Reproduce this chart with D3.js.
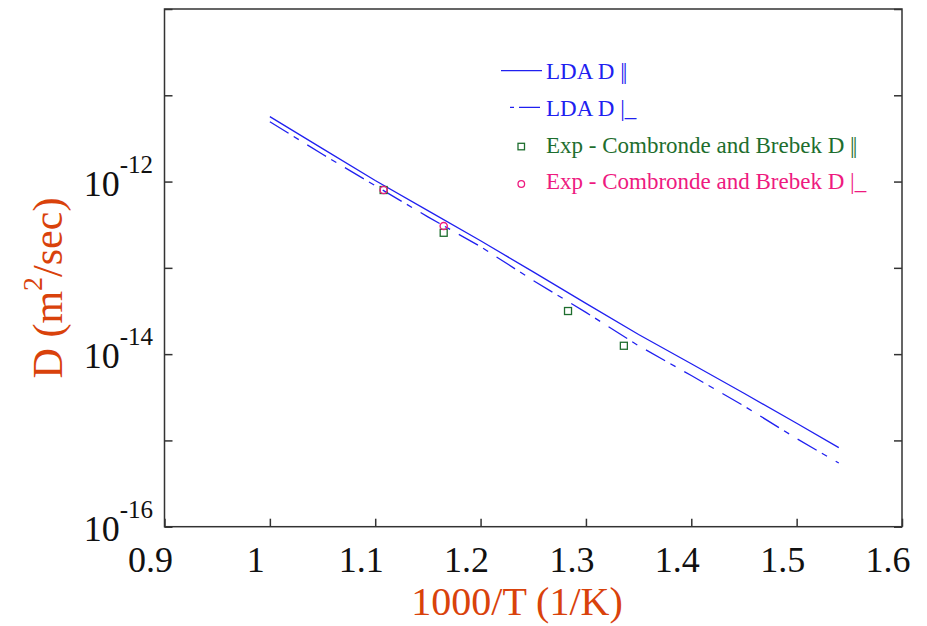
<!DOCTYPE html>
<html>
<head>
<meta charset="utf-8">
<script src="https://cdnjs.cloudflare.com/ajax/libs/d3/7.8.5/d3.min.js"></script>
<style>
    body { margin: 0; background: #fff; }
    svg { display: block; font-family: "Liberation Serif", "Times New Roman", serif; }
    .tick-label { font-size: 36px; fill: #111; }
    .axis-title { fill: #d9420b; }
    .legend-text { font-size: 23px; }
</style>
</head>
<body>
<svg width="927" height="626"></svg>
<script>
// 1000/T values where the LDA curves were evaluated
var ldaX = [1.0, 1.05, 1.1, 1.15, 1.2, 1.25, 1.3, 1.35, 1.4, 1.45, 1.5, 1.54];
// LDA diffusion coefficient, parallel (m^2/sec)
var ldaPar = [5.65e-12, 2.41e-12, 1.03e-12, 4.61e-13, 2.06e-13, 8.99e-14, 3.88e-14, 1.69e-14, 7.73e-15, 3.52e-15, 1.58e-15, 8.24e-16];
// LDA diffusion coefficient, perpendicular (m^2/sec)
var ldaPerp = [4.94e-12, 2.07e-12, 8.97e-13, 3.90e-13, 1.76e-13, 7.13e-14, 3.05e-14, 1.25e-14, 5.65e-15, 2.51e-15, 1.05e-15, 5.47e-16];

// Experiment (Combronde and Brebek)
var expParX = [1.108, 1.165, 1.283, 1.336];
var expPar = [7.98e-13, 2.55e-13, 3.16e-14, 1.25e-14];
var expPerpX = [1.108, 1.165];
var expPerp = [7.98e-13, 3.05e-13];

var xTicks = [0.9, 1.0, 1.1, 1.2, 1.3, 1.4, 1.5, 1.6];
var yTicks = [1e-16, 1e-15, 1e-14, 1e-13, 1e-12, 1e-11, 1e-10];
var yLabelExps = [-16, -14, -12];

// legend rows: text before the direction mark, and the mark itself
var legendLabels = ['LDA D ', 'LDA D ', 'Exp - Combronde and Brebek D ', 'Exp - Combronde and Brebek D '];
var legendMarks = ['||', '|_', '||', '|_'];

var blue = '#2020f0', green = '#1e6e2e', pink = '#ee1a7f';

var svg = d3.select('svg');

var plot = {l: 164.5, r: 902, t: 9, b: 526.7};

var xScale = d3.scaleLinear().domain([0.9, 1.6]).range([plot.l, plot.r]);
var yScale = d3.scaleLog().domain([1e-16, 1e-10]).range([plot.b, plot.t]);

// frame
svg.append('rect')
    .attr('x', plot.l).attr('y', plot.t)
    .attr('width', plot.r - plot.l).attr('height', plot.b - plot.t)
    .attr('fill', 'none').attr('stroke', '#333').attr('stroke-width', 1.5);

function styleTicks(g) {
    g.select('.domain').remove();
    g.selectAll('line').attr('stroke', '#333').attr('stroke-width', 1.5);
}

// inward ticks, bottom
var xAxis = d3.axisBottom(xScale).tickValues(xTicks).tickSizeInner(-8).tickSizeOuter(0).tickFormat('');
svg.append('g').attr('transform', 'translate(0,' + plot.b + ')').call(xAxis).call(styleTicks);

// inward ticks, left and right
var yAxisL = d3.axisLeft(yScale).tickValues(yTicks).tickSizeInner(-8).tickSizeOuter(0).tickFormat('');
var yAxisR = d3.axisRight(yScale).tickValues(yTicks).tickSizeInner(-8).tickSizeOuter(0).tickFormat('');
svg.append('g').attr('transform', 'translate(' + plot.l + ',0)').call(yAxisL).call(styleTicks);
svg.append('g').attr('transform', 'translate(' + plot.r + ',0)').call(yAxisR).call(styleTicks);

// x tick labels
svg.selectAll('.xlab')
    .data(xTicks)
    .enter()
    .append('text')
    .attr('class', 'tick-label')
    .attr('x', function(d) { return xScale(d) - 14; })
    .attr('y', 572)
    .attr('text-anchor', 'middle')
    .text(d3.format('~g'));

// y tick labels as powers of ten
var yLab = svg.selectAll('.ylab')
    .data(yLabelExps)
    .enter()
    .append('text')
    .attr('class', 'tick-label')
    .attr('x', 153)
    .attr('y', function(d) { return yScale(Math.pow(10, d)) + 14; })
    .attr('text-anchor', 'end');
yLab.append('tspan').text('10');
yLab.append('tspan').attr('dy', -23).style('font-size', '25px').text(function(d) { return '-' + Math.abs(d); });

// axis titles
svg.append('text')
    .attr('class', 'axis-title')
    .attr('x', 517).attr('y', 615)
    .attr('text-anchor', 'middle')
    .style('font-size', '40px')
    .text('1000/T (1/K)');

var yTitle = svg.append('text')
    .attr('class', 'axis-title')
    .attr('transform', 'translate(62,288)rotate(-90)')
    .attr('text-anchor', 'middle')
    .style('font-size', '42px');
yTitle.append('tspan').text('D (m');
yTitle.append('tspan').attr('dy', -20).style('font-size', '28px').text('2');
yTitle.append('tspan').attr('dy', 20).text('/sec)');

// LDA curves
var line = d3.line()
    .x(function(d) { return xScale(d[0]); })
    .y(function(d) { return yScale(d[1]); });

svg.append('path')
    .datum(d3.zip(ldaX, ldaPar))
    .attr('d', line)
    .attr('fill', 'none').attr('stroke', blue).attr('stroke-width', 1.3);

svg.append('path')
    .datum(d3.zip(ldaX, ldaPerp))
    .attr('d', line)
    .attr('fill', 'none').attr('stroke', blue).attr('stroke-width', 1.3)
    .attr('stroke-dasharray', '22,6,6,10');

// experimental points
svg.selectAll('.sq')
    .data(d3.zip(expParX, expPar))
    .enter()
    .append('rect')
    .attr('x', function(d) { return xScale(d[0]) - 3.5; })
    .attr('y', function(d) { return yScale(d[1]) - 3.5; })
    .attr('width', 7).attr('height', 7)
    .attr('fill', 'none').attr('stroke', green).attr('stroke-width', 1.3);

svg.selectAll('.circ')
    .data(d3.zip(expPerpX, expPerp))
    .enter()
    .append('circle')
    .attr('cx', function(d) { return xScale(d[0]); })
    .attr('cy', function(d) { return yScale(d[1]); })
    .attr('r', 3.6)
    .attr('fill', 'none').attr('stroke', pink).attr('stroke-width', 1.4);

// legend
var legend = svg.append('g');
var rowY = [79, 116, 152.7, 189.3];
var rowColor = [blue, blue, green, pink];

var legText = legend.selectAll('text')
    .data(legendLabels)
    .enter()
    .append('text')
    .attr('class', 'legend-text')
    .attr('x', 546)
    .attr('y', function(d, i) { return rowY[i]; })
    .attr('fill', function(d, i) { return rowColor[i]; });
legText.append('tspan').text(function(d) { return d; });
legText.append('tspan')
    .style('letter-spacing', function(d, i) { return legendMarks[i] === '||' ? '-2px' : '0px'; })
    .text(function(d, i) { return legendMarks[i]; });

legend.append('line')
    .attr('x1', 501).attr('x2', 542).attr('y1', 70.7).attr('y2', 70.7)
    .attr('stroke', blue).attr('stroke-width', 1.3);
legend.append('line')
    .attr('x1', 510).attr('x2', 540).attr('y1', 107.3).attr('y2', 107.3)
    .attr('stroke', blue).attr('stroke-width', 1.3)
    .attr('stroke-dasharray', '4,5,21');
legend.append('rect')
    .attr('x', 518).attr('y', 143.3).attr('width', 6.5).attr('height', 6.5)
    .attr('fill', 'none').attr('stroke', green).attr('stroke-width', 1.3);
legend.append('circle')
    .attr('cx', 521.3).attr('cy', 184).attr('r', 3.3)
    .attr('fill', 'none').attr('stroke', pink).attr('stroke-width', 1.3);
</script>
</body>
</html>
